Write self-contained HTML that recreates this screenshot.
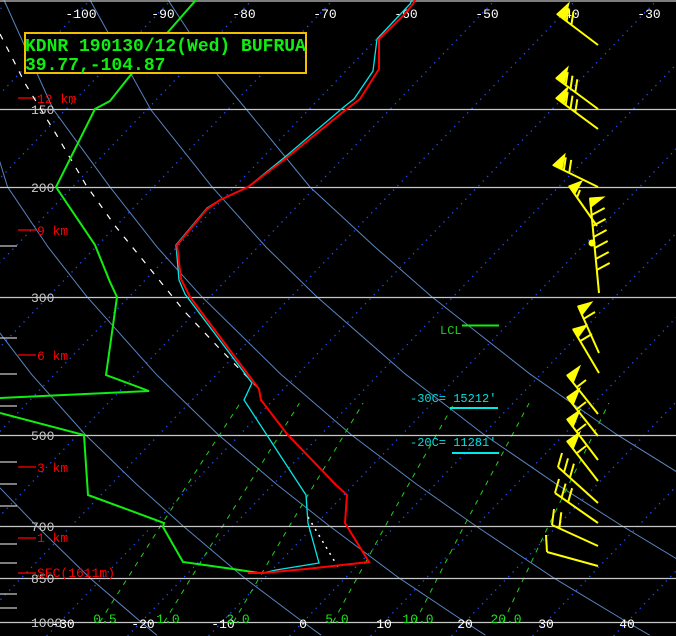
<!DOCTYPE html>
<html><head><meta charset="utf-8">
<style>
html,body{margin:0;padding:0;background:#000;overflow:hidden}
svg{display:block}
text{font-family:"Liberation Mono",monospace}
</style></head>
<body>
<svg width="676" height="636" viewBox="0 0 676 636" xmlns="http://www.w3.org/2000/svg">
<rect width="676" height="636" fill="#000"/>
<!-- isotherms dotted -->
<g stroke="#2050ff" stroke-width="1.3" stroke-dasharray="1.3,5">
<line x1="-601.4" y1="636" x2="9" y2="0"/>
<line x1="-520.4" y1="636" x2="90" y2="0"/>
<line x1="-439.4" y1="636" x2="171" y2="0"/>
<line x1="-358.4" y1="636" x2="252" y2="0"/>
<line x1="-277.4" y1="636" x2="333" y2="0"/>
<line x1="-196.4" y1="636" x2="414" y2="0"/>
<line x1="-115.4" y1="636" x2="495" y2="0"/>
<line x1="-34.4" y1="636" x2="576" y2="0"/>
<line x1="46.6" y1="636" x2="657" y2="0"/>
<line x1="127.6" y1="636" x2="738" y2="0"/>
<line x1="208.6" y1="636" x2="819" y2="0"/>
<line x1="289.6" y1="636" x2="900" y2="0"/>
<line x1="370.6" y1="636" x2="981" y2="0"/>
<line x1="451.6" y1="636" x2="1062" y2="0"/>
<line x1="532.6" y1="636" x2="1143" y2="0"/>
<line x1="613.6" y1="636" x2="1224" y2="0"/>
</g>
<!-- dry adiabats -->
<g fill="none" stroke="#5a84c0" stroke-width="1">
<polyline points="-3.9,483.9 36.2,525.5 90,578.1 141,622 156.9,635.2"/>
<polyline points="-28.2,296.4 31.4,374.2 85.3,434.6 136.1,483.9 182.5,525.5 244.6,578.1 303,622 321.1,635.2"/>
<polyline points="-16.5,109 7.5,186.8 48.1,247.1 86.7,296.4 156.1,374.2 218.2,434.6 276.1,483.9 328.8,525.5 399.2,578.1 465,622 485.4,635.2"/>
<polyline points="4,0 53,109 109.8,186.8 157.1,247.1 201.5,296.4 280.8,374.2 351.1,434.6 416.1,483.9 475.1,525.5 553.9,578.1 627,622 649.7,635.2"/>
<polyline points="90,0 151,110 212,186.8 266.1,247.1 316.4,296.4 405.5,374.2 484,434.6 556.1,483.9 621.4,525.5 708.5,578.1"/>
<polyline points="168,0 216,73 246,109 310,187 375.1,247.1 431.3,296.4 530.2,374.2 616.9,434.6 696.1,483.9"/>
</g>
<!-- mixing ratio -->
<g fill="none" stroke="#20d020" stroke-width="1" stroke-dasharray="5,6">
<polyline points="99.8,622 160.9,525.5 240.1,403.1"/>
<polyline points="164.2,622 223.1,525.5 299.4,403.1"/>
<polyline points="233.5,622 289.7,525.5 363.1,403.1"/>
<polyline points="333.1,622 385.6,525.5 454.2,403.1"/>
<polyline points="415.2,622 464.3,525.5 529.1,403.1"/>
<polyline points="503.1,622 548.6,525.5 608.9,403.1"/>
</g>
<!-- isobars -->
<g stroke="#c8c8c8" stroke-width="1.2">
<line x1="0" y1="1" x2="676" y2="1"/>
<line x1="0" y1="109.5" x2="676" y2="109.5"/>
<line x1="0" y1="187.5" x2="676" y2="187.5"/>
<line x1="0" y1="297.5" x2="676" y2="297.5"/>
<line x1="0" y1="435.5" x2="676" y2="435.5"/>
<line x1="0" y1="526.5" x2="676" y2="526.5"/>
<line x1="0" y1="578.5" x2="676" y2="578.5"/>
<line x1="0" y1="622.5" x2="676" y2="622.5"/>
</g>
<g stroke="#c8c8c8" stroke-width="1.2">
<line x1="0" y1="246" x2="17" y2="246"/><line x1="0" y1="338" x2="17" y2="338"/>
<line x1="0" y1="374" x2="17" y2="374"/><line x1="0" y1="406" x2="17" y2="406"/>
<line x1="0" y1="462" x2="17" y2="462"/><line x1="0" y1="484" x2="17" y2="484"/>
<line x1="0" y1="506" x2="17" y2="506"/><line x1="0" y1="544" x2="17" y2="544"/>
<line x1="0" y1="563" x2="17" y2="563"/><line x1="0" y1="594" x2="17" y2="594"/>
<line x1="0" y1="608" x2="17" y2="608"/>
</g>
<g fill="#c8c8c8" font-size="13">
<text x="31" y="114">150</text><text x="31" y="192">200</text><text x="31" y="302">300</text>
<text x="31" y="440">500</text><text x="31" y="531">700</text><text x="31" y="583">850</text>
<text x="31" y="627">1000</text>
</g>
<g fill="#fff" font-size="13" text-anchor="middle">
<text x="81" y="18">-100</text><text x="163" y="18">-90</text><text x="244" y="18">-80</text>
<text x="325" y="18">-70</text><text x="406" y="18">-60</text><text x="487" y="18">-50</text>
<text x="568" y="18">-40</text><text x="649" y="18">-30</text>
<text x="63" y="628">-30</text><text x="143" y="628">-20</text><text x="223" y="628">-10</text>
<text x="303" y="628">0</text><text x="384" y="628">10</text><text x="465" y="628">20</text>
<text x="546" y="628">30</text><text x="627" y="628">40</text>
</g>
<g fill="#20e020" font-size="13" text-anchor="middle">
<text x="105" y="623">0.5</text><text x="168" y="623">1.0</text><text x="238" y="623">2.0</text>
<text x="337" y="623">5.0</text><text x="418" y="623">10.0</text><text x="506" y="623">20.0</text>
</g>
<!-- km markers -->
<g stroke="#ff0000" stroke-width="1.2">
<line x1="18" y1="98" x2="36" y2="98"/><line x1="18" y1="230" x2="36" y2="230"/>
<line x1="18" y1="355" x2="36" y2="355"/><line x1="18" y1="467" x2="36" y2="467"/>
<line x1="18" y1="538" x2="36" y2="538"/><line x1="18" y1="573" x2="36" y2="573"/>
</g>
<g fill="#ff0000" font-size="13">
<text x="37" y="103">12 km</text><text x="37" y="235">9 km</text><text x="37" y="360">6 km</text>
<text x="37" y="472">3 km</text><text x="37" y="542">1 km</text><text x="37" y="577">SFC(1611m)</text>
</g>
<!-- white parcel -->
<polyline fill="none" stroke="#fff" stroke-width="1.2" stroke-dasharray="6,8" points="0,34 26,85 56,134 86,185 116,227 151,270 185,312 220,349 258,388"/>
<polyline fill="none" stroke="#fff" stroke-width="1.5" stroke-dasharray="2,5" points="308,517 338,567"/>
<!-- green profile -->
<polyline fill="none" stroke="#10ee10" stroke-width="2" points="196,0 168,32 129,77 110,101 95,109 56,187 95,245 110,282 117,297 106,375 149,391 0,398"/>
<polyline fill="none" stroke="#10ee10" stroke-width="2" points="0,413 84,435 88,495 164,523 163,527 183,562 233,569 259,573"/>
<!-- dewpoint -->
<polyline fill="none" stroke="#00e8e8" stroke-width="1.3" points="412,0 410,4 377,39 373,71 354,99 345,106 285,157 248,187 220,200 207,208 176,245 179,280 185,294 252,383 244,400 306,495 308,523 319,563 276,570 263,573 248,573"/>
<!-- temperature -->
<polyline fill="none" stroke="#ff0000" stroke-width="2" points="415,0 413,4 403,16 379,39 379,69 360,99 343,112 284,160 248,187 220,200 207,209 177,245 181,279 190,297 259,389 261,400 287,434 336,485 347,495 345,523 369,562 306,569 263,573 248,573"/>
<!-- title box -->
<rect x="25" y="33" width="281" height="40" fill="#000" stroke="#f0c000" stroke-width="2"/>
<g fill="#10ee10" font-size="18" font-weight="bold">
<text x="25" y="51">KDNR 190130/12(Wed) BUFRUA</text>
<text x="25" y="70">39.77,-104.87</text>
</g>
<!-- labels -->
<text x="440" y="334" fill="#20d020" font-size="12">LCL</text>
<line x1="462" y1="325.5" x2="499" y2="325.5" stroke="#10ee10" stroke-width="2"/>
<g fill="#00e0e0" font-size="12">
<text x="410" y="402">-30C= 15212'</text>
<text x="410" y="446">-20C= 11281'</text>
</g>
<line x1="450" y1="408" x2="498" y2="408" stroke="#00e8e8" stroke-width="2"/>
<line x1="452" y1="453" x2="499" y2="453" stroke="#00e8e8" stroke-width="2"/>
<!-- wind barbs -->
<g stroke="#ffff00" stroke-width="2" fill="#ffff00">
<line x1="598" y1="45" x2="557" y2="14"/>
<polygon stroke-width="1" points="557,14 569,3 565,20"/>
<line x1="566.6" y1="21.2" x2="568.6" y2="8.2"/><line x1="571.4" y1="24.8" x2="573.4" y2="11.8"/>

<line x1="598" y1="109" x2="556" y2="78"/>
<polygon stroke-width="1" points="556,78 568,67 564,84"/>
<line x1="565.7" y1="85.1" x2="567.7" y2="72.1"/><line x1="570.5" y1="88.7" x2="572.5" y2="75.7"/><line x1="575.3" y1="92.3" x2="577.3" y2="79.3"/>

<line x1="598" y1="129" x2="556" y2="98"/>
<polygon stroke-width="1" points="556,98 568,87 564,104"/>
<line x1="565.7" y1="105.1" x2="567.7" y2="92.1"/><line x1="570.5" y1="108.7" x2="572.5" y2="95.7"/><line x1="575.3" y1="112.3" x2="577.3" y2="99.3"/>

<line x1="598" y1="187" x2="553" y2="165"/>
<polygon stroke-width="1" points="553,165 565,154 562,169.4"/>
<line x1="563.8" y1="170.3" x2="565.8" y2="157.3"/><line x1="569.2" y1="172.9" x2="571.2" y2="159.9"/>

<line x1="597" y1="226" x2="569" y2="186"/>
<polygon stroke-width="1" points="569,186 582,181 574.7,194.2"/>
<line x1="577" y1="197.5" x2="580" y2="190"/>

<line x1="599" y1="293" x2="590" y2="198"/>
<polygon stroke-width="1" points="590,198 604,197 591,207"/>
<line x1="591.6" y1="215" x2="604.6" y2="208"/><line x1="592.6" y1="226" x2="605.6" y2="219"/>
<line x1="593.6" y1="237" x2="606.6" y2="230"/><line x1="594.7" y1="248" x2="607.7" y2="241"/>
<line x1="595.7" y1="259" x2="608.7" y2="252"/><line x1="596.7" y1="270" x2="609.7" y2="263"/>
<circle cx="592" cy="243" r="3" stroke-width="1"/>

<line x1="599" y1="353" x2="578" y2="306"/>
<polygon stroke-width="1" points="578,306 592,302 582,315"/>
<line x1="583.7" y1="318.8" x2="595" y2="312"/>

<line x1="599" y1="373" x2="573" y2="329"/>
<polygon stroke-width="1" points="573,329 587,325 578,337.6"/>
<line x1="580.1" y1="341.1" x2="592" y2="334"/>

<line x1="598" y1="414" x2="567" y2="375"/>
<polygon stroke-width="1" points="567,375 580,366 573.2,382.8"/>
<line x1="577" y1="387" x2="586" y2="380"/>

<line x1="598" y1="436" x2="567" y2="397"/>
<polygon stroke-width="1" points="567,397 580,388 573.2,404.8"/>
<line x1="577" y1="409" x2="586" y2="402"/>

<line x1="598" y1="460" x2="567" y2="419"/>
<polygon stroke-width="1" points="567,419 580,410 573.2,426.8"/>
<line x1="577" y1="431" x2="586" y2="424"/>

<line x1="598" y1="481" x2="567" y2="441"/>
<polygon stroke-width="1" points="567,441 580,432 573.2,448.8"/>
<line x1="577" y1="453" x2="586" y2="446"/>

<line x1="598" y1="503" x2="558" y2="467"/>
<line x1="558" y1="467" x2="562" y2="453"/><line x1="564" y1="472.4" x2="568" y2="458.4"/><line x1="569.9" y1="477.7" x2="573.9" y2="463.7"/>

<line x1="598" y1="523" x2="555" y2="493"/>
<line x1="555" y1="493" x2="559" y2="479"/><line x1="561.6" y1="497.6" x2="565.6" y2="483.6"/><line x1="568.1" y1="502.2" x2="572.1" y2="488.2"/>

<line x1="598" y1="546" x2="552" y2="525"/>
<line x1="552" y1="525" x2="554" y2="509"/><line x1="559.3" y1="528.3" x2="561.3" y2="512.3"/>

<line x1="598" y1="566" x2="547" y2="552"/>
<line x1="547" y1="552" x2="546" y2="535"/>
</g>
</svg>
</body></html>
